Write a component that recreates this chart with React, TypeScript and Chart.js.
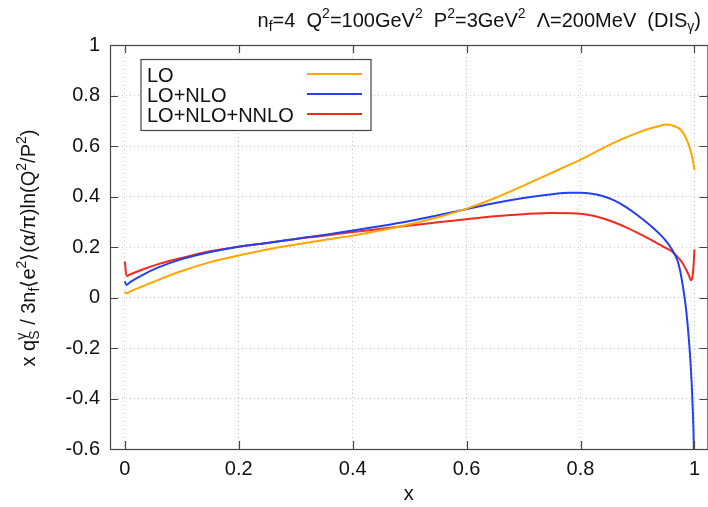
import React, { useEffect, useRef } from 'react';
import { Chart, registerables } from 'chart.js';

Chart.register(...registerables);

// ---- data ----
const xValues = [0, 0.003, 0.01, 0.03, 0.06, 0.1, 0.15, 0.2, 0.25, 0.3, 0.35, 0.4, 0.45, 0.5, 0.55, 0.6, 0.65, 0.7, 0.75, 0.78, 0.8, 0.82, 0.84, 0.86, 0.88, 0.9, 0.92, 0.94, 0.95, 0.96, 0.97, 0.975, 0.98, 0.985, 0.99, 0.994, 0.997, 0.999, 1.0];
const loValues = [0.024, 0.017, 0.024, 0.043, 0.071, 0.105, 0.14, 0.166, 0.19, 0.21, 0.228, 0.245, 0.266, 0.29, 0.318, 0.352, 0.394, 0.443, 0.494, 0.525, 0.546, 0.569, 0.592, 0.614, 0.634, 0.652, 0.668, 0.68, 0.685, 0.682, 0.674, 0.666, 0.652, 0.632, 0.604, 0.575, 0.545, 0.52, 0.504];
const nloValues = [0.064, 0.05, 0.062, 0.088, 0.12, 0.152, 0.18, 0.201, 0.216, 0.232, 0.248, 0.265, 0.283, 0.303, 0.326, 0.35, 0.374, 0.394, 0.409, 0.415, 0.415, 0.411, 0.401, 0.384, 0.358, 0.326, 0.29, 0.249, 0.224, 0.192, 0.148, 0.105, 0.04, -0.04, -0.16, -0.29, -0.44, -0.6, -0.8];
const nnloValues = [0.142, 0.085, 0.092, 0.11, 0.133, 0.157, 0.183, 0.201, 0.216, 0.232, 0.245, 0.259, 0.272, 0.285, 0.298, 0.31, 0.322, 0.33, 0.335, 0.334, 0.332, 0.325, 0.313, 0.297, 0.278, 0.256, 0.233, 0.208, 0.196, 0.183, 0.162, 0.149, 0.133, 0.112, 0.089, 0.068, 0.09, 0.145, 0.19];

const seriesNames = ['LO', 'LO+NLO', 'LO+NLO+NNLO'];
const seriesColors = ['#ffa500', '#2440f0', '#f22a1c'];

const xTicks = [0, 0.2, 0.4, 0.6, 0.8, 1];
const yTicks = [-0.6, -0.4, -0.2, 0, 0.2, 0.4, 0.6, 0.8, 1];
const X_MIN = -0.026;
const X_MAX = 1.0228;
const Y_MIN = -0.6;
const Y_MAX = 1;

const xAxisTitle = 'x';

type Seg = { t: string; k?: 'sup' | 'sub' | 'stack'; t2?: string };

const titleSegs: Seg[] = [
  { t: 'n' }, { t: 'f', k: 'sub' }, { t: '=4  Q' }, { t: '2', k: 'sup' }, { t: '=100GeV' }, { t: '2', k: 'sup' },
  { t: '  P' }, { t: '2', k: 'sup' }, { t: '=3GeV' }, { t: '2', k: 'sup' }, { t: '  \u039B=200MeV  (DIS' }, { t: '\u03B3', k: 'sub' }, { t: ')' },
];

const yTitleSegs: Seg[] = [
  { t: 'x q' }, { t: 'S', k: 'stack', t2: '\u03B3' }, { t: ' / 3n' }, { t: 'f', k: 'sub' }, { t: '\u27E8e' }, { t: '2', k: 'sup' },
  { t: '\u27E9(\u03B1/\u03C0)ln(Q' }, { t: '2', k: 'sup' }, { t: '/P' }, { t: '2', k: 'sup' }, { t: ')' },
];

const FONT = '"Liberation Sans", Arial, Helvetica, sans-serif';
const MAIN = 20;
const SMALL = 14;
const FRAME = '#444444';

function fmt(v: number): string {
  const r = Math.round(v * 10) / 10;
  return String(r);
}

function richDraw(ctx: CanvasRenderingContext2D, segs: Seg[], x: number, y: number, draw: boolean): number {
  let cx = x;
  for (const s of segs) {
    if (!s.k) {
      ctx.font = `${MAIN}px ${FONT}`;
      if (draw) ctx.fillText(s.t, cx, y);
      cx += ctx.measureText(s.t).width;
    } else if (s.k === 'sup') {
      ctx.font = `${SMALL}px ${FONT}`;
      if (draw) ctx.fillText(s.t, cx, y - 9);
      cx += ctx.measureText(s.t).width;
    } else if (s.k === 'sub') {
      ctx.font = `${SMALL}px ${FONT}`;
      if (draw) ctx.fillText(s.t, cx, y + 4);
      cx += ctx.measureText(s.t).width;
    } else {
      ctx.font = `${SMALL}px ${FONT}`;
      if (draw) {
        ctx.fillText(s.t, cx, y + 4);
        ctx.fillText(s.t2 || '', cx, y - 9);
      }
      cx += Math.max(ctx.measureText(s.t).width, ctx.measureText(s.t2 || '').width);
    }
  }
  return cx - x;
}

const decorPlugin = {
  id: 'decor',
  afterDatasetsDraw(chart: any) {
    const ctx: CanvasRenderingContext2D = chart.ctx;
    const { left, right, top, bottom } = chart.chartArea;
    const xs = chart.scales.x;
    const ys = chart.scales.y;
    ctx.save();
    // frame
    ctx.strokeStyle = FRAME;
    ctx.lineWidth = 1.2;
    ctx.setLineDash([]);
    ctx.strokeRect(left + 0.5, top + 0.5, right - left, bottom - top);
    // inward ticks
    const tl = 8;
    ctx.beginPath();
    for (const v of xTicks) {
      const px = Math.round(xs.getPixelForValue(v)) + 0.5;
      ctx.moveTo(px, bottom);
      ctx.lineTo(px, bottom - tl);
      ctx.moveTo(px, top);
      ctx.lineTo(px, top + tl);
    }
    for (const v of yTicks) {
      const py = Math.round(ys.getPixelForValue(v)) + 0.5;
      ctx.moveTo(left, py);
      ctx.lineTo(left + tl, py);
      ctx.moveTo(right, py);
      ctx.lineTo(right - tl, py);
    }
    ctx.stroke();

    // legend box
    const bx = 141, by = 59.5, bw = 230, bh = 71;
    ctx.fillStyle = '#ffffff';
    ctx.fillRect(bx, by, bw, bh);
    ctx.strokeStyle = FRAME;
    ctx.lineWidth = 1.2;
    ctx.strokeRect(bx, by, bw, bh);
    ctx.font = `${MAIN}px ${FONT}`;
    ctx.textBaseline = 'alphabetic';
    ctx.textAlign = 'left';
    seriesNames.forEach((name, i) => {
      const cy = 74 + i * 20;
      ctx.fillStyle = '#111111';
      ctx.fillText(name, 147, cy + 7.5);
      ctx.strokeStyle = seriesColors[i];
      ctx.lineWidth = 2;
      ctx.beginPath();
      ctx.moveTo(307, cy);
      ctx.lineTo(362, cy);
      ctx.stroke();
    });

    // title (right aligned)
    ctx.fillStyle = '#111111';
    const tw = richDraw(ctx, titleSegs, 0, 0, false);
    richDraw(ctx, titleSegs, 701 - tw, 27, true);

    // x axis title
    ctx.font = `${MAIN}px ${FONT}`;
    ctx.textAlign = 'center';
    ctx.fillText(xAxisTitle, (left + right) / 2, 500);
    ctx.textAlign = 'left';

    // y axis title (rotated)
    const yw = richDraw(ctx, yTitleSegs, 0, 0, false);
    ctx.translate(35, (top + bottom) / 2 + 1);
    ctx.rotate(-Math.PI / 2);
    richDraw(ctx, yTitleSegs, -yw / 2, 0, true);
    ctx.restore();
  },
};

export default function App() {
  const ref = useRef<HTMLCanvasElement | null>(null);
  useEffect(() => {
    document.body.style.margin = '0';
    const canvas = ref.current;
    if (!canvas) return;
    const mk = (ys: number[]) => xValues.map((x, i) => ({ x, y: ys[i] }));
    const chart = new Chart(canvas, {
      type: 'line',
      data: {
        datasets: [loValues, nloValues, nnloValues].map((ys, i) => ({
          label: seriesNames[i],
          data: mk(ys),
          borderColor: seriesColors[i],
          backgroundColor: seriesColors[i],
          borderWidth: 2,
          pointRadius: 0,
          fill: false,
          cubicInterpolationMode: 'monotone' as const,
          clip: 0,
        })),
      },
      options: {
        animation: false,
        responsive: false,
        maintainAspectRatio: false,
        devicePixelRatio: 1,
        layout: { padding: { top: 45, left: 0, right: 0, bottom: 0 } },
        plugins: {
          legend: { display: false },
          tooltip: { enabled: false },
          title: { display: false },
        },
        scales: {
          x: {
            type: 'linear',
            min: X_MIN,
            max: X_MAX,
            afterFit: (s: any) => { s.height = 58; },
            afterBuildTicks: (s: any) => { s.ticks = xTicks.map((v) => ({ value: v })); },
            ticks: {
              font: { family: FONT, size: MAIN },
              color: '#111111',
              padding: 8,
              maxRotation: 0,
              autoSkip: false,
              callback: (v: any) => fmt(Number(v)),
            },
            grid: { color: '#c4c4c4', lineWidth: 1, drawTicks: false },
            border: { display: false, dash: [1, 3] },
          },
          y: {
            type: 'linear',
            min: Y_MIN,
            max: Y_MAX,
            afterFit: (s: any) => { s.width = 110; },
            afterBuildTicks: (s: any) => { s.ticks = yTicks.map((v) => ({ value: v })); },
            ticks: {
              font: { family: FONT, size: MAIN },
              color: '#111111',
              padding: 10,
              autoSkip: false,
              callback: (v: any) => fmt(Number(v)),
            },
            grid: { color: '#c4c4c4', lineWidth: 1, drawTicks: false },
            border: { display: false, dash: [1, 3] },
          },
        },
      },
      plugins: [decorPlugin],
    } as any);
    return () => chart.destroy();
  }, []);
  return (
    <div style={{ width: 708, height: 507, position: 'relative', overflow: 'hidden', background: '#fff' }}>
      <canvas ref={ref} width={708} height={507} style={{ display: 'block', width: 708, height: 507 }} />
    </div>
  );
}
